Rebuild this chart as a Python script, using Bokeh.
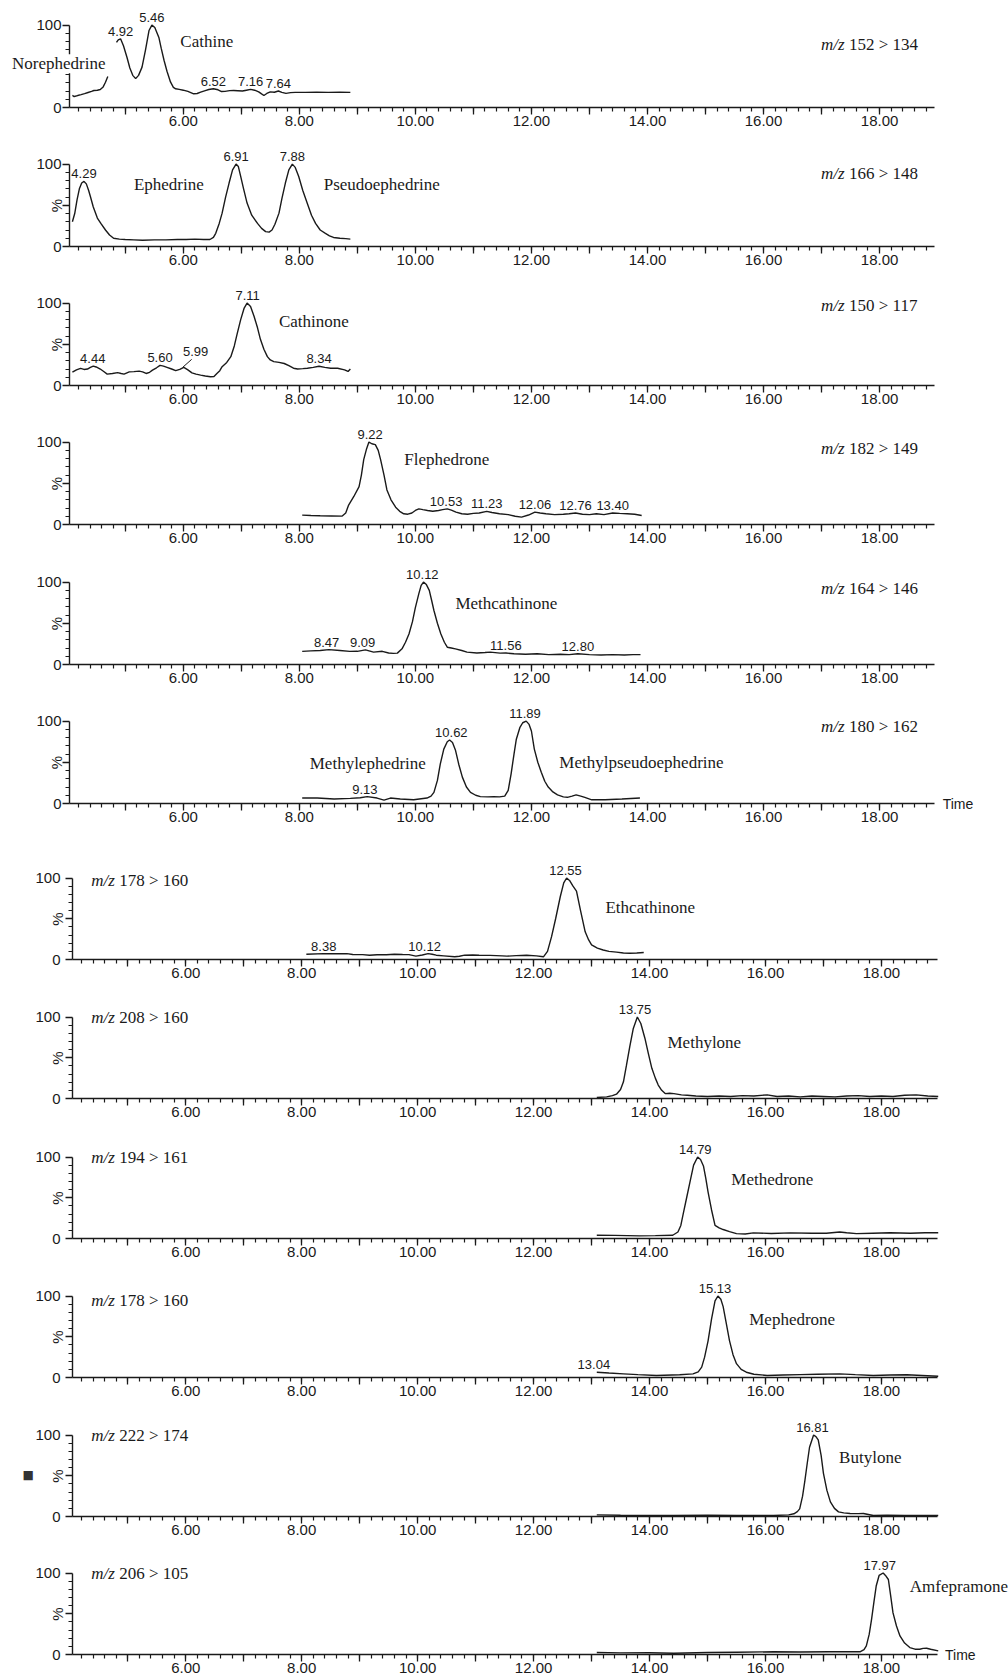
import numpy as np
from bokeh.plotting import figure
from bokeh.layouts import column
from bokeh.models import Range1d, FixedTicker, Label
from bokeh.core.properties import value
from bokeh.embed import file_html
from bokeh.resources import INLINE

NAN = float("nan")

# ---------------------------------------------------------------- data
# MRM transitions (one chromatogram each, top to bottom)
transitions = ["152 > 134", "166 > 148", "150 > 117", "182 > 149", "164 > 146", "180 > 162",
               "178 > 160", "208 > 160", "194 > 161", "178 > 160", "222 > 174", "206 > 105"]

# (retention time [min], relative intensity [%])
trace_152_134 = [(4.09, 14.6), (4.12, 13.3), (4.18, 14.5), (4.24, 15.6), (4.30, 16.8), (4.36, 18.2),
                 (4.42, 19.5), (4.46, 20.6), (4.52, 21.0), (4.57, 21.8), (4.62, 25.0), (4.66, 30.7),
                 (4.70, 37.6), (NAN, NAN), (4.85, 79.0), (4.88, 82.0), (4.92, 83.4), (4.97, 75.0),
                 (5.03, 61.0), (5.08, 48.0), (5.13, 39.0), (5.18, 35.0), (5.23, 39.0), (5.29, 49.0),
                 (5.35, 70.0), (5.41, 93.4), (5.46, 100.0), (5.51, 97.0), (5.58, 85.0), (5.62, 72.0),
                 (5.67, 57.0), (5.72, 44.0), (5.78, 31.0), (5.83, 24.5), (5.87, 22.7), (5.93, 22.0),
                 (6.00, 21.0), (6.08, 19.5), (6.18, 16.6), (6.24, 17.0), (6.30, 18.6), (6.38, 20.5),
                 (6.44, 21.8), (6.52, 22.7), (6.60, 21.5), (6.66, 19.4), (6.72, 19.6), (6.80, 20.5),
                 (6.87, 20.6), (6.94, 20.4), (7.02, 20.0), (7.09, 21.0), (7.16, 22.0), (7.23, 21.0),
                 (7.30, 19.0), (7.35, 16.5), (7.39, 14.6), (7.44, 17.0), (7.50, 19.0), (7.57, 18.5),
                 (7.64, 20.0), (7.70, 18.3), (7.77, 17.2), (7.85, 18.0), (7.93, 18.3), (8.10, 18.3),
                 (8.30, 18.5), (8.50, 18.4), (8.70, 18.5), (8.88, 18.4)]
trace_166_148 = [(4.09, 30.0), (4.13, 40.0), (4.17, 56.7), (4.21, 70.0), (4.25, 77.0), (4.29, 79.0),
                 (4.33, 76.0), (4.37, 68.0), (4.40, 60.7), (4.45, 48.0), (4.52, 34.5), (4.58, 28.0),
                 (4.66, 20.0), (4.73, 14.0), (4.80, 10.0), (4.90, 9.0), (5.00, 8.5), (5.15, 8.0),
                 (5.30, 7.5), (5.50, 8.0), (5.70, 8.0), (5.90, 8.5), (6.05, 8.5), (6.20, 9.0),
                 (6.35, 8.5), (6.46, 8.5), (6.52, 11.0), (6.56, 16.0), (6.62, 28.0), (6.67, 40.5),
                 (6.73, 60.0), (6.79, 77.0), (6.85, 93.0), (6.91, 100.0), (6.95, 97.0), (6.99, 85.0),
                 (7.04, 70.0), (7.10, 52.7), (7.18, 38.0), (7.28, 28.0), (7.35, 22.0), (7.42, 18.0),
                 (7.48, 17.5), (7.53, 20.0), (7.58, 27.0), (7.65, 40.5), (7.70, 58.0), (7.76, 77.0),
                 (7.82, 93.0), (7.88, 100.0), (7.93, 96.0), (7.99, 85.0), (8.06, 68.0), (8.14, 52.0),
                 (8.21, 38.0), (8.28, 28.0), (8.36, 20.0), (8.45, 16.0), (8.52, 13.0), (8.59, 11.0),
                 (8.70, 10.0), (8.80, 9.5), (8.88, 9.0)]
trace_150_117 = [(4.09, 16.2), (4.16, 19.0), (4.23, 20.7), (4.29, 19.5), (4.35, 20.0), (4.40, 22.0),
                 (4.45, 23.5), (4.50, 22.5), (4.57, 20.0), (4.63, 17.0), (4.69, 13.8), (4.78, 14.5),
                 (4.87, 15.6), (4.93, 14.5), (4.98, 13.8), (5.07, 16.5), (5.15, 16.8), (5.24, 17.4),
                 (5.30, 16.5), (5.36, 14.6), (5.42, 16.0), (5.47, 18.7), (5.54, 21.5), (5.60, 24.4),
                 (5.66, 23.5), (5.72, 22.0), (5.80, 20.0), (5.87, 18.0), (5.94, 19.5), (6.01, 22.0),
                 (6.08, 19.0), (6.15, 15.4), (6.22, 13.8), (6.30, 12.6), (6.38, 11.5), (6.47, 10.6),
                 (6.53, 11.0), (6.58, 14.6), (6.63, 18.0), (6.67, 22.8), (6.75, 28.0), (6.82, 35.0),
                 (6.88, 48.0), (6.93, 63.0), (6.99, 80.0), (7.05, 94.0), (7.10, 100.0), (7.16, 96.0),
                 (7.22, 84.0), (7.28, 70.0), (7.33, 56.0), (7.39, 44.0), (7.45, 35.0), (7.50, 31.0),
                 (7.56, 29.0), (7.65, 28.0), (7.74, 26.7), (7.82, 24.0), (7.90, 21.0), (7.97, 20.0),
                 (8.06, 20.5), (8.14, 21.0), (8.24, 22.0), (8.34, 23.3), (8.44, 22.0), (8.54, 21.0),
                 (8.66, 21.0), (8.78, 19.0), (8.84, 17.0), (8.88, 20.0)]
trace_182_149 = [(8.05, 11.4), (8.20, 11.0), (8.36, 10.6), (8.55, 10.4), (8.74, 10.2), (8.80, 14.0),
                 (8.85, 23.6), (8.94, 34.0), (9.03, 46.0), (9.07, 60.0), (9.11, 78.8), (9.16, 92.0),
                 (9.20, 100.0), (9.25, 98.0), (9.31, 97.0), (9.36, 90.0), (9.40, 79.0), (9.46, 60.0),
                 (9.51, 42.0), (9.58, 30.0), (9.66, 21.0), (9.73, 16.0), (9.80, 13.0), (9.87, 12.5),
                 (9.94, 14.0), (10.00, 17.0), (10.06, 19.0), (10.13, 18.0), (10.21, 17.0), (10.30, 16.0),
                 (10.40, 17.0), (10.47, 18.0), (10.55, 19.0), (10.62, 17.5), (10.70, 15.0), (10.80, 13.0),
                 (10.90, 12.5), (11.00, 13.5), (11.10, 14.0), (11.23, 16.0), (11.32, 14.5), (11.45, 13.0),
                 (11.60, 12.0), (11.72, 10.0), (11.83, 9.0), (11.95, 11.5), (12.06, 15.0), (12.15, 14.0),
                 (12.25, 13.0), (12.40, 12.0), (12.55, 12.5), (12.65, 13.0), (12.76, 14.0), (12.88, 12.5),
                 (13.00, 12.0), (13.12, 13.0), (13.25, 12.0), (13.40, 14.0), (13.52, 13.5), (13.65, 13.0),
                 (13.78, 12.5), (13.90, 11.0)]
trace_164_146 = [(8.05, 15.9), (8.20, 16.5), (8.36, 17.0), (8.51, 18.0), (8.70, 17.0), (8.87, 15.9),
                 (9.00, 16.0), (9.14, 17.7), (9.28, 15.0), (9.43, 16.0), (9.54, 14.0), (9.62, 13.5),
                 (9.69, 13.8), (9.77, 19.0), (9.83, 27.0), (9.89, 37.0), (9.95, 52.0), (10.00, 69.0),
                 (10.06, 86.0), (10.10, 96.0), (10.14, 100.0), (10.19, 97.0), (10.24, 90.0), (10.28, 78.0),
                 (10.32, 65.5), (10.38, 50.0), (10.44, 37.0), (10.50, 27.0), (10.55, 21.0), (10.62, 20.0),
                 (10.69, 19.0), (10.80, 17.0), (10.89, 15.0), (11.06, 14.0), (11.20, 14.5), (11.29, 15.0),
                 (11.46, 13.8), (11.56, 14.0), (11.70, 13.0), (11.90, 12.5), (12.10, 13.0), (12.30, 12.0),
                 (12.50, 12.5), (12.65, 12.0), (12.80, 13.0), (13.00, 12.0), (13.20, 11.5), (13.40, 12.0),
                 (13.60, 11.5), (13.75, 12.0), (13.88, 12.0)]
trace_180_162 = [(8.05, 6.6), (8.31, 6.6), (8.60, 5.4), (8.88, 6.2), (9.05, 7.0), (9.17, 8.3),
                 (9.34, 6.6), (9.46, 4.1), (9.57, 6.6), (9.74, 5.4), (9.97, 4.5), (10.20, 6.6),
                 (10.27, 9.0), (10.32, 13.5), (10.38, 28.0), (10.43, 48.0), (10.49, 66.0), (10.55, 75.0),
                 (10.59, 77.0), (10.64, 74.0), (10.69, 65.0), (10.75, 47.0), (10.81, 32.0), (10.88, 20.0),
                 (10.95, 13.5), (11.04, 10.0), (11.12, 8.3), (11.25, 8.0), (11.35, 8.3), (11.45, 8.0),
                 (11.54, 9.0), (11.60, 16.0), (11.65, 36.0), (11.70, 60.0), (11.74, 78.0), (11.80, 92.0),
                 (11.85, 98.0), (11.91, 100.0), (11.96, 96.0), (12.00, 88.0), (12.05, 66.0), (12.11, 50.0),
                 (12.17, 38.0), (12.23, 27.0), (12.29, 20.0), (12.37, 14.0), (12.45, 10.5), (12.55, 8.0),
                 (12.62, 7.5), (12.70, 9.0), (12.77, 10.5), (12.85, 9.0), (12.92, 7.5), (13.04, 4.5),
                 (13.27, 4.5), (13.56, 5.4), (13.87, 6.6)]
trace_178_160_a = [(8.08, 6.5), (8.38, 7.2), (8.60, 7.0), (8.78, 7.2), (8.88, 6.2), (9.05, 6.0),
                   (9.17, 5.3), (9.30, 5.8), (9.46, 5.8), (9.60, 6.5), (9.74, 6.2), (9.85, 6.0),
                   (9.97, 4.1), (10.08, 5.5), (10.18, 7.2), (10.25, 6.5), (10.32, 5.3), (10.45, 4.5),
                   (10.64, 3.3), (10.72, 4.0), (10.81, 5.3), (10.95, 5.5), (11.06, 5.3), (11.25, 5.0),
                   (11.46, 4.5), (11.54, 4.1), (11.70, 4.8), (11.88, 5.3), (12.05, 4.5), (12.17, 3.3),
                   (12.24, 10.0), (12.31, 28.0), (12.38, 50.0), (12.46, 77.0), (12.52, 94.0), (12.57, 100.0),
                   (12.62, 97.0), (12.68, 90.0), (12.74, 84.0), (12.81, 60.0), (12.89, 34.0), (12.95, 24.0),
                   (13.00, 18.0), (13.10, 14.0), (13.20, 11.7), (13.30, 10.0), (13.43, 9.0), (13.55, 8.0),
                   (13.66, 7.6), (13.78, 8.0), (13.90, 8.5)]
trace_208_160 = [(13.09, 1.2), (13.26, 2.0), (13.36, 3.5), (13.43, 5.3), (13.50, 11.0), (13.55, 20.5),
                 (13.60, 40.0), (13.66, 64.0), (13.72, 86.0), (13.79, 100.0), (13.85, 92.0), (13.92, 74.0),
                 (13.98, 55.0), (14.04, 37.0), (14.10, 25.0), (14.15, 16.5), (14.21, 10.0), (14.27, 6.0),
                 (14.35, 6.5), (14.42, 6.0), (14.55, 4.5), (14.65, 4.0), (14.80, 3.0), (15.00, 2.5),
                 (15.20, 3.0), (15.40, 2.5), (15.60, 3.5), (15.80, 3.0), (16.03, 4.5), (16.20, 2.5),
                 (16.40, 3.0), (16.60, 2.0), (16.80, 3.0), (17.00, 2.5), (17.20, 2.0), (17.40, 3.0),
                 (17.60, 3.5), (17.80, 2.5), (18.00, 3.0), (18.20, 2.5), (18.40, 4.0), (18.60, 4.5),
                 (18.80, 3.0), (18.98, 2.5)]
trace_194_161 = [(13.09, 4.0), (13.40, 3.8), (13.83, 3.2), (14.10, 3.5), (14.40, 4.0), (14.49, 8.0),
                 (14.54, 16.0), (14.58, 30.0), (14.64, 50.0), (14.70, 70.0), (14.76, 90.0), (14.83, 100.0),
                 (14.88, 97.0), (14.93, 89.0), (14.97, 74.0), (15.01, 57.0), (15.07, 35.0), (15.13, 16.0),
                 (15.20, 13.0), (15.27, 11.0), (15.38, 8.5), (15.50, 6.0), (15.65, 5.5), (15.79, 6.9),
                 (16.10, 6.2), (16.43, 6.9), (16.80, 6.5), (17.05, 6.5), (17.28, 8.0), (17.40, 7.0),
                 (17.57, 6.0), (17.85, 6.5), (18.15, 7.0), (18.50, 6.5), (18.75, 7.0), (18.98, 7.0)]
trace_178_160_b = [(13.09, 6.5), (13.30, 5.5), (13.55, 4.5), (13.80, 3.5), (14.12, 2.5), (14.52, 3.3),
                   (14.75, 4.5), (14.84, 7.0), (14.90, 12.7), (14.95, 25.0), (15.01, 45.0), (15.07, 72.0),
                   (15.13, 94.0), (15.18, 100.0), (15.23, 96.0), (15.27, 87.0), (15.32, 68.0), (15.38, 45.0),
                   (15.44, 28.0), (15.50, 17.0), (15.58, 10.0), (15.67, 6.5), (15.80, 4.0), (16.03, 2.5),
                   (16.30, 3.0), (16.60, 3.5), (16.90, 4.0), (17.28, 4.5), (17.55, 3.5), (17.86, 2.5),
                   (18.15, 3.0), (18.44, 3.3), (18.70, 2.5), (18.98, 1.5)]
trace_222_174 = [(13.09, 2.0), (13.50, 1.5), (14.00, 1.2), (14.42, 1.2), (15.00, 1.5), (15.50, 1.2),
                 (16.14, 1.2), (16.40, 2.0), (16.49, 3.3), (16.55, 6.0), (16.59, 9.4), (16.64, 25.0),
                 (16.68, 44.0), (16.72, 65.0), (16.76, 85.0), (16.83, 100.0), (16.87, 98.0), (16.91, 94.0),
                 (16.96, 75.0), (17.00, 53.0), (17.06, 32.0), (17.12, 18.0), (17.19, 10.0), (17.26, 5.7),
                 (17.35, 4.5), (17.46, 3.7), (17.60, 3.5), (17.69, 3.7), (17.86, 1.2), (18.10, 1.5),
                 (18.40, 1.2), (18.70, 1.2), (18.98, 1.2)]
trace_206_105 = [(13.09, 2.4), (13.50, 2.0), (14.00, 2.2), (14.42, 1.6), (15.00, 2.5), (15.50, 2.8),
                 (16.14, 3.3), (16.60, 3.0), (17.10, 3.3), (17.63, 3.3), (17.70, 6.0), (17.74, 10.6),
                 (17.79, 25.0), (17.83, 43.0), (17.87, 64.0), (17.91, 84.0), (17.96, 97.0), (18.03, 100.0),
                 (18.07, 97.0), (18.12, 92.0), (18.16, 72.0), (18.20, 51.0), (18.26, 35.0), (18.32, 22.8),
                 (18.40, 14.0), (18.49, 8.5), (18.58, 6.5), (18.66, 6.5), (18.72, 7.5), (18.78, 7.7),
                 (18.85, 6.5), (18.98, 4.5)]

# retention times printed above the peaks
peaks_152_134 = ["4.92", "5.46", "6.52", "7.16", "7.64"]
peaks_166_148 = ["4.29", "6.91", "7.88"]
peaks_150_117 = ["4.44", "5.60", "5.99", "7.11", "8.34"]
peaks_182_149 = ["9.22", "10.53", "11.23", "12.06", "12.76", "13.40"]
peaks_164_146 = ["8.47", "9.09", "10.12", "11.56", "12.80"]
peaks_180_162 = ["9.13", "10.62", "11.89"]
peaks_178_160_a = ["8.38", "10.12", "12.55"]
peaks_208_160 = ["13.75"]
peaks_194_161 = ["14.79"]
peaks_178_160_b = ["13.04", "15.13"]
peaks_222_174 = ["16.81"]
peaks_206_105 = ["17.97"]

# compound names per chromatogram
compounds = [["Cathine"], ["Ephedrine", "Pseudoephedrine"], ["Cathinone"], ["Flephedrone"],
             ["Methcathinone"], ["Methylephedrine", "Methylpseudoephedrine"], ["Ethcathinone"],
             ["Methylone"], ["Methedrone"], ["Mephedrone"], ["Butylone"], ["Amfepramone"]]
outside_compound = "Norephedrine"

# axis ticks
x_ticks = [5, 6, 7, 8, 9, 10, 11, 12, 13, 14, 15, 16, 17, 18]
x_tick_labels = ["", "6.00", "", "8.00", "", "10.00", "", "12.00", "", "14.00", "", "16.00", "", "18.00"]
y_ticks = [0, 50, 100]
y_tick_labels = ["0", "", "100"]

# ---------------------------------------------------------------- layout / style
traces = [trace_152_134, trace_166_148, trace_150_117, trace_182_149, trace_164_146, trace_180_162,
          trace_178_160_a, trace_208_160, trace_194_161, trace_178_160_b, trace_222_174, trace_206_105]
peaks = [peaks_152_134, peaks_166_148, peaks_150_117, peaks_182_149, peaks_164_146, peaks_180_162,
         peaks_178_160_a, peaks_208_160, peaks_194_161, peaks_178_160_b, peaks_222_174, peaks_206_105]

# placement of the compound names (left edge x in min, centre y in %)
name_xy = [[(5.95, 80)], [(5.15, 75), (8.42, 75)], [(7.65, 78)], [(9.81, 79)], [(10.69, 74)],
           [(8.18, 49), (12.48, 50)], [(13.24, 64)], [(14.31, 69)], [(15.41, 72)], [(15.72, 71)],
           [(17.27, 72)], [(18.49, 84)]]
mz_y = [76, 88, 97, 92, 92, 93, 97, 100, 99.6, 94, 100, 99]

PAGE_W, PAGE_H = 1008, 1677
BASE = [107, 246, 385, 524, 664, 803, 959, 1098, 1238, 1377, 1516, 1654]   # baseline pixel rows
FRAME_H = 107
INK = "#1a1a1a"
SANS = "Liberation Sans"
SERIF = "Liberation Serif"

figs = []
for k in range(12):
    lower = k >= 6
    L = 72 if lower else 69               # pixel column of the y axis
    ppm = 57.97 if lower else 58.03       # pixels per minute
    ppu = 0.815 if lower else 0.824       # pixels per % unit
    x0 = 4.046 if lower else 4.04
    x_axis_end = 18.96 if lower else 18.95
    top = BASE[k] - FRAME_H
    nxt = BASE[k + 1] - FRAME_H if k < 11 else PAGE_H
    h = nxt - top
    below = h - FRAME_H

    # the frame covers the whole canvas; the axes are pinned inside it
    p = figure(width=PAGE_W, height=h,
               x_range=Range1d(x0 - L / ppm, x0 + (PAGE_W - L) / ppm),
               y_range=Range1d(-below / ppu, FRAME_H / ppu),
               output_backend="svg", toolbar_location=None,
               min_border_left=0, min_border_right=0, min_border_top=0, min_border_bottom=0)
    p.outline_line_color = None
    p.xgrid.visible = False
    p.ygrid.visible = False
    p.background_fill_color = "white"
    p.border_fill_color = "white"

    # x axis
    xa = p.xaxis[0]
    xa.fixed_location = 0
    xa.ticker = FixedTicker(ticks=x_ticks, minor_ticks=[round(4.2 + 0.2 * j, 1) for j in range(74)])
    xa.major_label_overrides = {t: s for t, s in zip(x_ticks, x_tick_labels)}
    xa.bounds = (x0, x_axis_end)
    xa.major_tick_out = 7
    xa.major_tick_in = 0
    xa.minor_tick_out = 4
    xa.minor_tick_in = 0
    xa.major_label_standoff = 1
    xa.major_label_text_font = SANS
    xa.major_label_text_font_size = "15px"
    xa.major_label_text_color = INK
    xa.axis_line_color = INK
    xa.axis_line_width = 1.4
    xa.major_tick_line_color = INK
    xa.major_tick_line_width = 1.3
    xa.minor_tick_line_color = INK
    xa.minor_tick_line_width = 1.2

    # y axis
    ya = p.yaxis[0]
    ya.fixed_location = x0
    ya.ticker = FixedTicker(ticks=y_ticks, minor_ticks=[10, 20, 30, 40, 60, 70, 80, 90])
    ya.major_label_overrides = {t: s for t, s in zip(y_ticks, y_tick_labels)}
    ya.bounds = (0, 100)
    ya.major_tick_out = 7
    ya.major_tick_in = 0
    ya.minor_tick_out = 4
    ya.minor_tick_in = 0
    ya.major_label_standoff = 5 if lower else 1
    ya.major_label_text_font = SANS
    ya.major_label_text_font_size = "15px"
    ya.major_label_text_color = INK
    ya.axis_label = "%"
    ya.axis_label_text_font = SANS
    ya.axis_label_text_font_size = "15px"
    ya.axis_label_text_font_style = "normal"
    ya.axis_label_text_color = INK
    ya.axis_label_standoff = -32 if not lower else -34
    ya.axis_line_color = INK
    ya.axis_line_width = 1.4
    ya.major_tick_line_color = INK
    ya.major_tick_line_width = 1.3
    ya.minor_tick_line_color = INK
    ya.minor_tick_line_width = 1.2

    # chromatogram
    t = np.array([a for a, b in traces[k]], dtype=float)
    v = np.array([b for a, b in traces[k]], dtype=float)
    p.line(t, v, line_color=INK, line_width=1.4)

    # peak retention-time labels
    xs, ys, xo, yo = [], [], [], []
    for lab in peaks[k]:
        rt = float(lab)
        near = np.abs(np.nan_to_num(t, nan=-99) - rt) <= 0.07
        y = float(np.nanmax(v[near]))
        if k == 2 and lab == "5.99":          # label moved aside with a leader line
            dx, dy = 13, 8
            p.segment(x0=[rt], y0=[y], x1=[rt + 9 / ppm], y1=[y + 8 / ppu],
                      line_color=INK, line_width=1.0)
        else:
            dx, dy = 0, 0
        xs.append(rt)
        ys.append(y)
        xo.append(dx)
        yo.append(-3 - dy)
    p.text(x=xs, y=ys, text=peaks[k], x_offset=xo, y_offset=yo,
           text_align="center", text_baseline="bottom",
           text_font=value(SANS), text_font_size="13px", text_color=INK)

    # compound names
    for name, (nx, ny) in zip(compounds[k], name_xy[k]):
        p.text(x=[nx], y=[ny], text=[name], text_align="left", text_baseline="middle",
               text_font=value(SERIF), text_font_size="17px", text_color=INK)

    # transition label
    mzx = 4.37 if lower else 16.99
    p.text(x=[mzx], y=[mz_y[k]], text=["m/z"], text_align="left", text_baseline="middle",
           text_font=value(SERIF), text_font_size="17px", text_font_style="italic", text_color=INK)
    p.text(x=[mzx], y=[mz_y[k]], text=[transitions[k]], x_offset=28,
           text_align="left", text_baseline="middle",
           text_font=value(SERIF), text_font_size="17px", text_color=INK)

    if k == 0:
        p.add_layout(Label(x=3.05, y=53, text=outside_compound, text_align="left",
                           text_baseline="middle", text_font=SERIF, text_font_size="17px",
                           text_color=INK, background_fill_color="white"))
    if k in (5, 11):
        p.add_layout(Label(x=x_axis_end, y=0, x_offset=8, text="Time", text_align="left",
                           text_baseline="middle", text_font=SANS, text_font_size="14px",
                           text_color=INK))
    if k == 10:
        p.add_layout(Label(x=3.28, y=51, text="\u25a0", text_align="center",
                           text_baseline="middle", text_font="DejaVu Sans", text_font_size="12px",
                           text_color="#333333"))
    figs.append(p)

layout = column(*figs, spacing=0)
open("out.html", "w").write(file_html(layout, INLINE))
